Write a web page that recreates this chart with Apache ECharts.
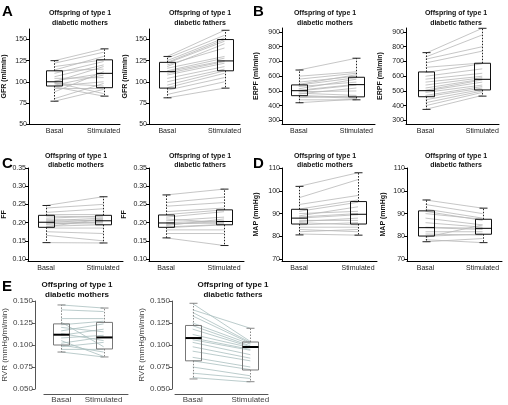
<!DOCTYPE html>
<html><head><meta charset="utf-8">
<script src="https://cdn.jsdelivr.net/npm/echarts@6/dist/echarts.min.js"></script>
<style>html,body{margin:0;padding:0;background:#fff}#c{width:508px;height:405px}</style>
</head><body><div id="c"></div>
<script>
// ---------- DATA ----------
const groups = ['Basal', 'Stimulated'];
const subtitleTop = 'Offspring of type 1';
const mothersLabel = 'diabetic mothers';
const fathersLabel = 'diabetic fathers';

// A: GFR (ml/min)
const gfrMothersBasal = [125,122,118,114,113,110,106,104,101,100,99,98,96,95,94,92,88,80,77];
const gfrMothersStim  = [139,135,126,130,115,124,120,105,110,118,86,95,108,100,83,92,112,98,91];
const gfrMothersBox   = [[77,95,100,113,125],[83,93,110,126,139]];
const gfrFathersBasal = [130,128,125,123,122,120,118,116,113,112,110,108,104,100,96,93,90,85,81];
const gfrFathersStim  = [161,155,152,150,148,140,145,130,128,125,124,122,118,115,113,110,105,100,92.5];
const gfrFathersBox   = [[81,92.5,112,123,130],[92.5,113,124.7,150,161]];

// B: ERPF (ml/min)
const erpfMothersBasal = [642,600,580,560,545,540,530,515,505,500,495,485,480,470,465,455,440,420];
const erpfMothersStim  = [722,630,620,600,610,590,560,580,545,540,500,470,520,455,450,465,440,445];
const erpfMothersBox   = [[420,468,502,541,642],[440,460,543,593,722]];
const erpfFathersBasal = [755,730,715,690,660,625,600,580,560,540,520,505,500,490,470,460,440,420,400,375];
const erpfFathersStim  = [925,880,800,770,690,685,650,620,600,590,580,575,560,540,530,520,510,500,490,470];
const erpfFathersBox   = [[375,461,502,629,760],[465,507,579,688,925]];

// C: FF
const ffMothersBasal = [0.247,0.240,0.228,0.222,0.218,0.212,0.208,0.205,0.202,0.200,0.198,0.195,0.190,0.188,0.185,0.175,0.165,0.145];
const ffMothersStim  = [0.271,0.250,0.238,0.222,0.215,0.218,0.205,0.212,0.200,0.208,0.196,0.203,0.194,0.210,0.185,0.170,0.150,0.144];
const ffMothersBox   = [[0.145,0.187,0.201,0.220,0.247],[0.144,0.194,0.205,0.220,0.271]];
const ffFathersBasal = [0.276,0.255,0.245,0.230,0.222,0.215,0.210,0.205,0.200,0.198,0.195,0.192,0.188,0.186,0.180,0.170,0.158];
const ffFathersStim  = [0.292,0.270,0.255,0.240,0.235,0.230,0.200,0.215,0.205,0.198,0.203,0.210,0.195,0.194,0.180,0.170,0.137];
const ffFathersBox   = [[0.158,0.187,0.199,0.221,0.276],[0.137,0.194,0.203,0.235,0.292]];

// D: MAP (mmHg)
const mapMothersBasal = [102,97,94,92,91,90,89,88.5,88,87,86.5,86,85,84,83,82,81];
const mapMothersStim  = [108,105,98,96,95,91,93,90,89.5,87,88,85,86,84,82,83,80.5];
const mapMothersBox   = [[80.6,85.4,88,91.9,102],[80.5,85.4,89.7,95.3,108]];
const mapFathersBasal = [96,94,92,91,90,88,86,84,83.8,82,81,80,79.5,78.5,77.6];
const mapFathersStim  = [92.4,90,88,87,87.5,85,84,83.5,83,82,80.5,81,85,77.2,79];
const mapFathersBox   = [[77.6,80.1,83.8,91.2,96],[77.2,80.9,83.5,87.5,92.4]];

// E: RVR (mmHg/ml/min)
const rvrMothersBasal = [0.1455,0.140,0.130,0.126,0.123,0.120,0.116,0.113,0.111,0.108,0.105,0.102,0.100,0.098,0.095,0.092];
const rvrMothersStim  = [0.142,0.138,0.130,0.098,0.127,0.115,0.124,0.105,0.118,0.111,0.087,0.109,0.092,0.103,0.095,0.0864];
const rvrMothersBox   = [[0.092,0.100,0.1117,0.124,0.1455],[0.0864,0.0955,0.1086,0.1257,0.142]];
const rvrFathersBasal = [0.147,0.140,0.137,0.133,0.125,0.122,0.118,0.112,0.108,0.106,0.103,0.098,0.093,0.086,0.082,0.075,0.068,0.063];
const rvrFathersStim  = [0.104,0.119,0.103,0.102,0.101,0.099,0.098,0.097,0.095,0.094,0.089,0.085,0.082,0.075,0.072,0.065,0.062,0.058];
const rvrFathersBox   = [[0.0614,0.082,0.1079,0.1222,0.1474],[0.0583,0.0716,0.0977,0.1034,0.119]];

// tick labels
const gfrTicks  = [50,75,100,125,150];
const erpfTicks = [300,400,500,600,700,800,900];
const ffTicks   = [0.10,0.15,0.20,0.25,0.30,0.35];
const mapTicks  = [70,80,90,100,110];
const rvrTicks  = [0.050,0.075,0.100,0.125,0.150];

// ---------- LAYOUT ----------
const FONT = '"Liberation Sans", Arial, Helvetica, sans-serif';
const panels = [
  {left:29,  top:29,  w:91, h:95, ymin:50,     ymax:162.5, ticks:gfrTicks,  dec:0, name:'GFR (ml/min)',  gap:21, pB:0.28, pS:0.82, basal:gfrMothersBasal, stim:gfrMothersStim, box:gfrMothersBox, title:mothersLabel, tx:80},
  {left:149, top:29,  w:91, h:95, ymin:50,     ymax:162.5, ticks:gfrTicks,  dec:0, name:'GFR (ml/min)',  gap:20, pB:0.20, pS:0.83, basal:gfrFathersBasal, stim:gfrFathersStim, box:gfrFathersBox, title:fathersLabel, tx:200},
  {left:282, top:28,  w:93, h:96, ymin:276,    ymax:927,   ticks:erpfTicks, dec:0, name:'ERPF (ml/min)', gap:22, pB:0.18, pS:0.80, basal:erpfMothersBasal, stim:erpfMothersStim, box:erpfMothersBox, title:mothersLabel, tx:325},
  {left:406, top:28,  w:93, h:96, ymin:276,    ymax:927,   ticks:erpfTicks, dec:0, name:'ERPF (ml/min)', gap:22, pB:0.21, pS:0.82, basal:erpfFathersBasal, stim:erpfFathersStim, box:erpfFathersBox, title:fathersLabel, tx:456},
  {left:28,  top:168, w:95, h:93, ymin:0.0945, ymax:0.35,  ticks:ffTicks,   dec:2, name:'FF',            gap:20, pB:0.19, pS:0.79, basal:ffMothersBasal, stim:ffMothersStim, box:ffMothersBox, title:mothersLabel, tx:76},
  {left:149, top:168, w:95, h:93, ymin:0.0945, ymax:0.35,  ticks:ffTicks,   dec:2, name:'FF',            gap:21, pB:0.18, pS:0.79, basal:ffFathersBasal, stim:ffFathersStim, box:ffFathersBox, title:fathersLabel, tx:200},
  {left:282, top:168, w:95, h:93, ymin:69.1,   ymax:110.1, ticks:mapTicks,  dec:0, name:'MAP (mmHg)',    gap:22, pB:0.18, pS:0.80, basal:mapMothersBasal, stim:mapMothersStim, box:mapMothersBox, title:mothersLabel, tx:325},
  {left:407, top:168, w:95, h:93, ymin:69.1,   ymax:110.1, ticks:mapTicks,  dec:0, name:'MAP (mmHg)',    gap:20, pB:0.195,pS:0.795,basal:mapFathersBasal, stim:mapFathersStim, box:mapFathersBox, title:fathersLabel, tx:456},
  {left:40,  top:301, w:88, h:88, ymin:0.05,   ymax:0.15,  ticks:rvrTicks,  dec:3, name:'RVR (mmHg/ml/min)', gap:22, pB:0.205, pS:0.71, basal:rvrMothersBasal, stim:rvrMothersStim, box:rvrMothersBox, title:mothersLabel, tx:77, e:true, yOff:9, xOff:5},
  {left:175, top:301, w:93, h:88, ymin:0.05,   ymax:0.15,  ticks:rvrTicks,  dec:3, name:'RVR (mmHg/ml/min)', gap:25, pB:0.19, pS:0.81, basal:rvrFathersBasal, stim:rvrFathersStim, box:rvrFathersBox, title:fathersLabel, tx:233, e:true, yOff:3, xOff:5}
];
const titleRows = [[13,23],[13,23],[13,23],[13,23],[156,165],[156,165],[156,165],[156,165],[285,295],[285,295]];
const letters = [['A',2,4],['B',253,4],['C',2,156],['D',253,156],['E',2,279]];

// ---------- BUILD ----------
const grids=[], xAxes=[], yAxes=[], series=[], graphics=[];
panels.forEach((p,i)=>{
  const e = !!p.e;
  const axisCol = e ? '#555' : '#000';
  const labCol = e ? '#444' : '#222';
  grids.push({left:p.left, top:p.top, width:p.w, height:p.h});
  xAxes.push({type:'value', gridIndex:i, min:0, max:1, offset:p.xOff||0,
    axisLine:{show:true, onZero:false, lineStyle:{color:axisCol, width:1}},
    axisTick:{show:false}, splitLine:{show:false},
    axisLabel:{customValues:[p.pB,p.pS], formatter:v=>Math.abs(v-p.pB)<1e-9?groups[0]:groups[1],
      fontFamily:FONT, fontSize:e?8:7, color:labCol, margin:e?2:4}});
  yAxes.push({type:'value', gridIndex:i, min:p.ymin, max:p.ymax, offset:p.yOff||0,
    axisLine:{show:true, onZero:false, lineStyle:{color:axisCol, width:1}},
    axisTick:{show:true, customValues:p.ticks, length:3, lineStyle:{color:axisCol}},
    axisLabel:{customValues:p.ticks, formatter:v=>v.toFixed(p.dec), fontFamily:FONT, fontSize:e?8:7, color:labCol, margin:2},
    splitLine:{show:false},
    name:p.name, nameLocation:'middle', nameGap:p.gap,
    nameTextStyle:{fontFamily:FONT, fontSize:e?8:7, fontWeight:e?'normal':'bold', color:e?'#444':'#111'}});
  // paired subject lines
  series.push({type:'custom', xAxisIndex:i, yAxisIndex:i, clip:false, silent:true, z:1,
    data:p.basal.map((b,k)=>[p.pB,b,p.pS,p.stim[k]]),
    renderItem:(params,api)=>{
      const a=api.coord([api.value(0),api.value(1)]), b=api.coord([api.value(2),api.value(3)]);
      return {type:'line', shape:{x1:a[0],y1:a[1],x2:b[0],y2:b[1]},
        style:{stroke:e?'#a9bfbf':'#b8b8b8', lineWidth:0.8}};
    }});
  // boxes
  series.push({type:'custom', xAxisIndex:i, yAxisIndex:i, clip:false, silent:true, z:3,
    data:p.box.map((s,k)=>[k===0?p.pB:p.pS].concat(s)),
    renderItem:(params,api)=>{
      const x=api.value(0);
      const pMin=api.coord([x,api.value(1)]), pQ1=api.coord([x,api.value(2)]), pMed=api.coord([x,api.value(3)]),
            pQ3=api.coord([x,api.value(4)]), pMax=api.coord([x,api.value(5)]);
      const cx=Math.round(pMin[0])+0.5, hw=e?8:8, cw=e?4:4;
      const boxCol = e ? '#777' : '#111';
      const whCol = e ? '#888' : '#222';
      return {type:'group', children:[
        {type:'line', shape:{x1:cx,y1:pQ3[1],x2:cx,y2:pMax[1]}, style:{stroke:whCol,lineWidth:1,lineDash:[1.5,1.5]}},
        {type:'line', shape:{x1:cx,y1:pQ1[1],x2:cx,y2:pMin[1]}, style:{stroke:whCol,lineWidth:1,lineDash:[1.5,1.5]}},
        {type:'line', shape:{x1:cx-cw,y1:pMax[1],x2:cx+cw,y2:pMax[1]}, style:{stroke:whCol,lineWidth:1}},
        {type:'line', shape:{x1:cx-cw,y1:pMin[1],x2:cx+cw,y2:pMin[1]}, style:{stroke:whCol,lineWidth:1}},
        {type:'rect', shape:{x:cx-hw,y:pQ3[1],width:2*hw,height:pQ1[1]-pQ3[1]}, style:{fill:'none',stroke:boxCol,lineWidth:1}},
        {type:'line', shape:{x1:cx-hw,y1:pMed[1],x2:cx+hw,y2:pMed[1]}, style:{stroke:'#000',lineWidth:e?2:1}}
      ]};
    }});
  // titles
  graphics.push({type:'text', left:p.tx, top:titleRows[i][0], style:{text:subtitleTop, fontFamily:FONT, fontSize:e?8:7, fontWeight:'bold', fill:'#111', textAlign:'center', textVerticalAlign:'middle'}, x:p.tx, y:titleRows[i][0]});
  graphics.push({type:'text', style:{text:p.title, x:p.tx, y:titleRows[i][1], fontFamily:FONT, fontSize:e?8:7, fontWeight:'bold', fill:'#111', textAlign:'center', textVerticalAlign:'middle'}});
});
// fix first title graphic to use style coords
for (let i=0;i<graphics.length;i+=2){ const g=graphics[i]; delete g.left; delete g.top; g.style.x=g.x; g.style.y=g.y; delete g.x; delete g.y; }
letters.forEach(l=>graphics.push({type:'text', style:{text:l[0], x:l[1], y:l[2], fontFamily:FONT, fontSize:15, fontWeight:'bold', fill:'#000'}}));

const chart = echarts.init(document.getElementById('c'));
chart.setOption({animation:false, backgroundColor:'#fff', grid:grids, xAxis:xAxes, yAxis:yAxes, series:series, graphic:graphics});
</script></body></html>
